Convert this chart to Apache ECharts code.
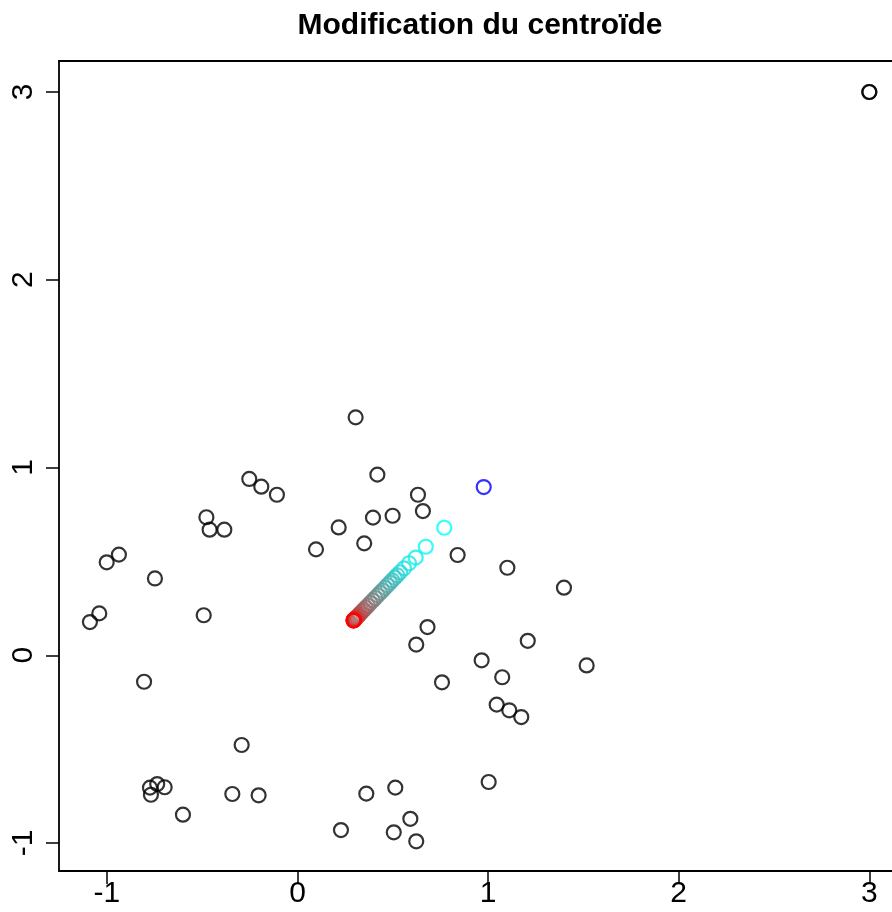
<!DOCTYPE html>
<html>
<head>
<meta charset="utf-8">
<script src="https://cdn.jsdelivr.net/npm/echarts@6/dist/echarts.min.js"></script>
<style>
html,body{margin:0;padding:0;background:#fff;}
#chart{width:892px;height:912px;}
</style>
</head>
<body>
<div id="chart"></div>
<script>
const titleText = 'Modification du centroïde';
const xTicks = [-1, 0, 1, 2, 3];
const yTicks = [-1, 0, 1, 2, 3];

const pointsX = [-1.089,-1.040,-1.001,-0.937,-0.748,-0.492,-0.805,-0.774,-0.736,-0.697,-0.769,-0.601,-0.342,-0.293,-0.204,-0.478,-0.461,-0.384,-0.253,-0.190,-0.108,0.097,0.216,0.305,0.350,0.396,0.419,0.499,0.632,0.658,0.840,1.101,1.398,0.682,0.623,1.208,0.966,1.517,1.074,0.758,1.045,1.111,1.174,1.003,0.361,0.513,0.592,0.228,0.505,0.623,3.0,3.0];
const pointsY = [0.177,0.223,0.495,0.536,0.409,0.213,-0.141,-0.705,-0.686,-0.703,-0.743,-0.849,-0.739,-0.478,-0.746,0.735,0.669,0.669,0.939,0.898,0.855,0.564,0.681,1.267,0.596,0.733,0.962,0.743,0.855,0.768,0.534,0.466,0.360,0.150,0.057,0.077,-0.027,-0.054,-0.117,-0.144,-0.263,-0.293,-0.329,-0.675,-0.737,-0.705,-0.871,-0.931,-0.943,-0.991,3.0,3.0];

const startX = [0.977];
const startY = [0.896];

const trailX = [0.770,0.673,0.620,0.585,0.559,0.538,0.523,0.510,0.497,0.485,0.472,0.459,0.446,0.433,0.421,0.408,0.395,0.382,0.369,0.358,0.348,0.338,0.329,0.322,0.315,0.309,0.304,0.301,0.298,0.296,0.295,0.295,0.294,0.294];
const trailY = [0.679,0.578,0.520,0.490,0.463,0.442,0.426,0.413,0.399,0.386,0.373,0.359,0.345,0.332,0.319,0.305,0.292,0.278,0.264,0.253,0.242,0.232,0.222,0.214,0.207,0.201,0.196,0.192,0.189,0.188,0.187,0.186,0.186,0.185];

const FONT = "'Liberation Sans', Arial, Helvetica, sans-serif";

function rampColor(i, n) {
  const t = n > 1 ? i / (n - 1) : 0;
  const r = Math.round(255 * t), g = Math.round(255 * (1 - t)), b = Math.round(255 * (1 - t));
  return 'rgb(' + r + ',' + g + ',' + b + ')';
}

const blackData = pointsX.map((x, i) => [x, pointsY[i]]);
const startData = startX.map((x, i) => [x, startY[i]]);
const trailData = trailX.map((x, i) => ({
  value: [x, trailY[i]],
  itemStyle: { borderColor: rampColor(i, trailX.length) }
}));

const circleStyle = (c) => ({ color: 'rgba(0,0,0,0)', borderColor: c, borderWidth: 2.2 });
const SYM = 14;

const chart = echarts.init(document.getElementById('chart'), null, { renderer: 'canvas' });
chart.setOption({
  animation: false,
  backgroundColor: '#fff',
  title: {
    text: titleText,
    left: 475,
    top: 6,
    textAlign: 'center',
    textStyle: { fontFamily: FONT, fontWeight: 'bold', fontSize: 30, color: '#000' }
  },
  grid: {
    left: 59, top: 61, right: 0, height: 810,
    show: false
  },
  xAxis: [{
    type: 'value', min: -1.2513, max: 3.119, position: 'bottom',
    axisLine: { show: true, onZero: false, lineStyle: { color: '#000', width: 1.8 } },
    splitLine: { show: false },
    axisTick: { show: true, customValues: xTicks, length: 13, lineStyle: { color: '#000', width: 1.5 } },
    axisLabel: { customValues: xTicks, margin: 8, fontSize: 30, fontFamily: FONT, color: '#000' }
  }, {
    type: 'value', min: -1.2513, max: 3.119, position: 'top',
    axisLine: { show: true, onZero: false, lineStyle: { color: '#000', width: 1.8 } },
    splitLine: { show: false },
    axisTick: { show: false },
    axisLabel: { show: false }
  }],
  yAxis: {
    type: 'value', min: -1.149, max: 3.165, position: 'left',
    axisLine: { show: true, onZero: false, lineStyle: { color: '#000', width: 1.8 } },
    splitLine: { show: false },
    axisTick: { show: true, customValues: yTicks, length: 13, lineStyle: { color: '#000', width: 1.5 } },
    axisLabel: { customValues: yTicks, margin: 20, rotate: 90, fontSize: 30, fontFamily: FONT, color: '#000' }
  },
  series: [
    { type: 'scatter', silent: true, symbol: 'circle', symbolSize: SYM, itemStyle: circleStyle('#000'), data: blackData },
    { type: 'scatter', silent: true, symbol: 'circle', symbolSize: SYM, itemStyle: circleStyle('#0000ff'), data: startData },
    { type: 'scatter', silent: true, symbol: 'circle', symbolSize: SYM, itemStyle: circleStyle('#00ffff'), data: trailData }
  ]
});
</script>
</body>
</html>
